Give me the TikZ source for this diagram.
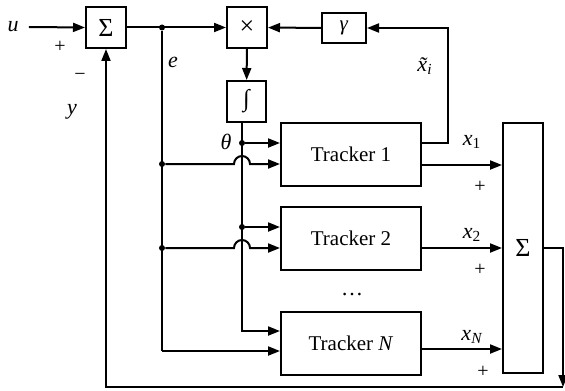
\documentclass[tikz,border=0pt]{standalone}
\usepackage{fontspec}
\setmainfont{Liberation Serif}
\usetikzlibrary{arrows.meta, positioning, calc}

\tikzset{
  blk/.style={draw, line width=1pt, inner sep=0pt,
    font=\fontsize{10.5}{12}\selectfont},
  opblk/.style={blk, minimum width=20pt, minimum height=20.5pt,
    font=\fontsize{13}{14}\selectfont},
  trk/.style={blk, minimum width=70pt, minimum height=31.5pt},
  lbl/.style={inner sep=0pt, font=\fontsize{11}{12}\selectfont},
  sgn/.style={inner sep=0pt, font=\fontsize{10}{11}\selectfont},
  wire/.style={line width=1pt},
  sig/.style={wire, -{Triangle[length=6pt,width=4.5pt]}},
  jdot/.style={circle, fill, inner sep=0pt, minimum size=3pt}
}

\begin{document}
\begin{tikzpicture}[x=0.5pt, y=-0.5pt]
  \useasboundingbox (0,0) rectangle (565,390);

  % blocks
  \node[opblk] (sum1) at (106,27.5) {Σ};
  \node[opblk] (mul) at (247,27.5) {×};
  \node[blk, minimum width=22pt, minimum height=15pt] (gam) at (344,28) {\textit{γ}};
  \node[opblk, minimum width=19.5pt, font=\fontsize{12}{13}\selectfont] (int) at (246.5,101.5) {∫};
  \node[trk] (trk1) at (351,154.5) {Tracker 1};
  \node[trk] (trk2) at (351,238) {Tracker 2};
  \node[trk] (trkN) at (351,343) {Tracker \textit{N}};
  \node[opblk, minimum height=125pt] (sum2) at (523,248) {Σ};

  % junctions
  \node[jdot] (ej) at (162,27.5) {};
  \node[jdot] (e1) at (162,164) {};
  \node[jdot] (e2) at (162,248) {};
  \coordinate (eN) at (162,351);
  \node[jdot] (t1) at (242,143) {};
  \node[jdot] (t2) at (242,227) {};
  \coordinate (tN) at (242,331);
  \coordinate (xfb) at (448,143);
  \coordinate (o1) at ([yshift=-5.25pt]trk1.east);
  \coordinate (oN) at ([yshift=-3pt]trkN.east);
  \coordinate (fb) at (563,387);

  % labels
  \node[lbl] (u) at (13,27) {\textit{u}};
  \node[sgn] at (60,47) {+};
  \node[sgn] at (80,77) {−};
  \node[lbl] at (72,112) {\textit{y}};
  \node[lbl] at (173,62) {\textit{e}};
  \node[lbl] at (226,142) {\textit{θ}};
  \node[lbl] at (425,66) {{\itshape\~x}\textsubscript{\itshape i}};
  \node[lbl] at (472,142) {\textit{x}\textsubscript{1}};
  \node[lbl] at (472,235) {\textit{x}\textsubscript{2}};
  \node[lbl] at (472,337) {\textit{x}\textsubscript{\itshape N}};
  \node[sgn] at (480,187) {+};
  \node[sgn] at (480,270) {+};
  \node[sgn] at (483,372) {+};
  \node[lbl] at (352,295) {…};

  % error path
  \draw[sig] ([xshift=5pt]u.east) -- (sum1.west);
  \draw[sig] (sum1) -- (mul);
  \draw[sig] (gam) -- (mul);
  \draw[sig] (mul) -- (int);
  \draw[sig] (trk1.east |- t1) -- (xfb) |- (gam.east);

  % theta bus
  \draw[sig] (int.south -| t1) -- (tN) -- (trkN.west |- tN);
  \draw[sig] (t1) -- (trk1.west |- t1);
  \draw[sig] (t2) -- (trk2.west |- t2);

  % e bus
  \draw[wire] (ej) -- (eN);
  \draw[sig] (eN) -- (trkN.west |- eN);
  \draw[sig] (e1) -- ++(72,0) arc[start angle=180, end angle=360, radius=8] -- (trk1.west |- e1);
  \draw[sig] (e2) -- ++(72,0) arc[start angle=180, end angle=360, radius=8] -- (trk2.west |- e2);

  % outputs
  \draw[sig] (o1) -- (sum2.west |- o1);
  \draw[sig] (trk2.east |- e2) -- (sum2.west |- e2);
  \draw[sig] (oN) -- (sum2.west |- oN);
  \draw[sig] (sum2.east) -| (fb);
  \draw[sig] (fb) -| (sum1.south);
\end{tikzpicture}
\end{document}
